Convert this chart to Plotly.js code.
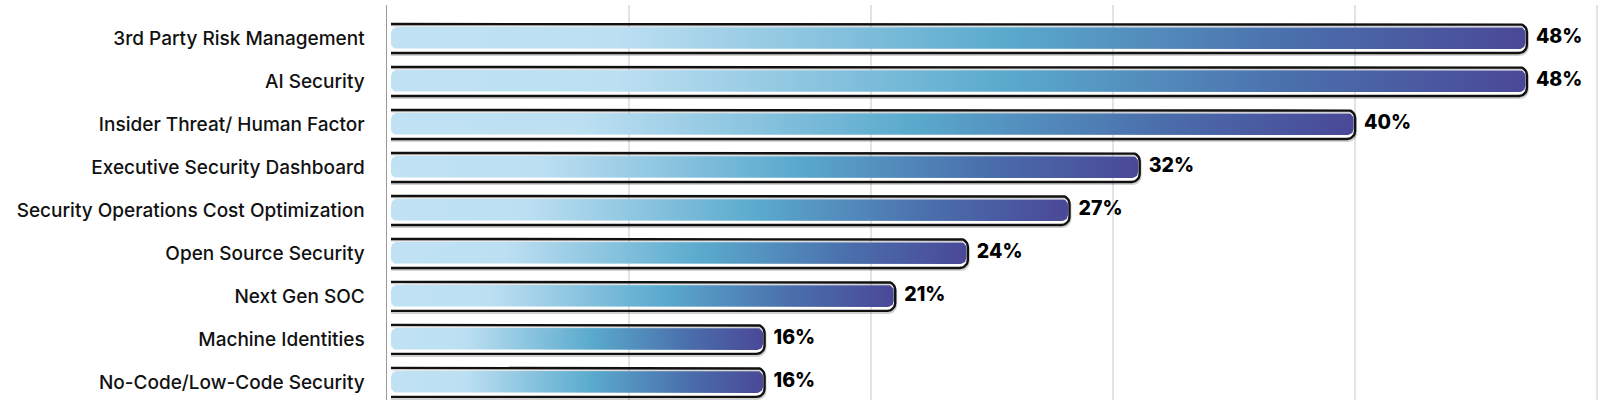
<!DOCTYPE html>
<html>
<head>
<meta charset="utf-8">
<script src="https://cdn.plot.ly/plotly-3.0.1.min.js"></script>
<style>
html, body { margin: 0; padding: 0; background: #fff; }
#chart { width: 1600px; height: 400px; }
</style>
</head>
<body>
<div id="chart"></div>
<script>
const categories = [
    '3rd Party Risk Management',
    'AI Security',
    'Insider Threat/ Human Factor',
    'Executive Security Dashboard',
    'Security Operations Cost Optimization',
    'Open Source Security',
    'Next Gen SOC',
    'Machine Identities',
    'No-Code/Low-Code Security'
]
const pctLabels = ['48%', '48%', '40%', '32%', '27%', '24%', '21%', '16%', '16%']
// bar lengths as drawn in the picture (percent of the axis)
const barLength = [47.1, 47.1, 40, 31.1, 28.2, 24, 21, 15.6, 15.6]

const W = 1600, H = 400
const margin = { l: 387, r: 0, t: 5, b: 0 }
const xRange = [0, 50.12]
const yRange = [8.41, -0.78]

// pixels per data unit, so corners and insets can be given in px
const pxX = (W - margin.l - margin.r) / (xRange[1] - xRange[0])
const pxY = (H - margin.t - margin.b) / (yRange[0] - yRange[1])
const dx = p => p / pxX
const dy = p => p / pxY

const gradient = [
    [0, '#c0e2f4'],
    [0.2, '#bcdff2'],
    [0.54, '#5aaacd'],
    [0.8, '#4a6eab'],
    [1, '#4a4898']
]

function arc(xs, ys, cx, cy, rx, ry, a0, a1) {
    const n = 8
    for (let k = 0; k <= n; k++) {
        const a = a0 + (a1 - a0) * k / n
        xs.push(cx + rx * Math.cos(a))
        ys.push(cy + ry * Math.sin(a))
    }
}

function roundRect(x0, x1, yt, yb, r) {
    const rx = dx(r), ry = dy(r)
    let xs = [], ys = []
    arc(xs, ys, x0 + rx, yt + ry, rx, ry, Math.PI, 1.5 * Math.PI)
    arc(xs, ys, x1 - rx, yt + ry, rx, ry, 1.5 * Math.PI, 2 * Math.PI)
    arc(xs, ys, x1 - rx, yb - ry, rx, ry, 0, 0.5 * Math.PI)
    arc(xs, ys, x0 + rx, yb - ry, rx, ry, 0.5 * Math.PI, Math.PI)
    xs.push(xs[0]); ys.push(ys[0])
    return [xs, ys]
}

function outline(x0, x1, yt, yb, r) {
    const rx = dx(r), ry = dy(r)
    let xs = [x0], ys = [yt]
    arc(xs, ys, x1 - rx, yt + ry, rx, ry, 1.5 * Math.PI, 2 * Math.PI)
    arc(xs, ys, x1 - rx, yb - ry, rx, ry, 0, 0.5 * Math.PI)
    xs.push(x0); ys.push(yb)
    return [xs, ys]
}

const data = []
barLength.forEach((len, i) => {
    const x0 = dx(4)
    // soft shadow under the bar
    const sh = outline(x0, len + dx(1), i - dy(13), i + dy(16.5), 8)
    data.push({
        x: sh[0], y: sh[1], mode: 'lines', hoverinfo: 'skip', showlegend: false,
        line: { color: 'rgba(0,0,0,0.18)', width: 2 }
    })
    const fill = roundRect(x0, len - dx(1.5), i - dy(11.5), i + dy(10.5), 6)
    data.push({
        x: fill[0], y: fill[1], mode: 'lines', fill: 'toself', hoverinfo: 'skip', showlegend: false,
        line: { width: 0, color: 'rgba(0,0,0,0)' },
        fillgradient: { type: 'horizontal', colorscale: gradient }
    })
    const ol = outline(x0, len, i - dy(14.5), i + dy(14.5), 8)
    data.push({
        x: ol[0], y: ol[1], mode: 'lines', hoverinfo: 'skip', showlegend: false,
        line: { color: '#111', width: 2.4 }
    })
})

data.push({
    x: barLength.map(v => v + dx(9)),
    y: categories.map((c, i) => i),
    text: pctLabels,
    mode: 'text',
    textposition: 'middle right',
    textfont: { family: 'Inter, Roboto, sans-serif', size: 19.5, weight: 800, color: '#000' },
    hoverinfo: 'skip',
    showlegend: false
})

const layout = {
    width: W,
    height: H,
    margin: margin,
    paper_bgcolor: '#fff',
    plot_bgcolor: '#fff',
    showlegend: false,
    xaxis: {
        range: xRange,
        dtick: 10,
        showticklabels: false,
        showgrid: true,
        gridcolor: '#e4e4e4',
        gridwidth: 1.5,
        zeroline: false,
        showline: false,
        fixedrange: true
    },
    yaxis: {
        range: yRange,
        tickvals: categories.map((c, i) => i),
        ticktext: categories,
        ticks: '',
        ticklabelstandoff: 17,
        showgrid: false,
        zeroline: false,
        showline: true,
        linecolor: '#9a9a9a',
        linewidth: 1.5,
        tickfont: { family: 'Inter, Roboto, sans-serif', size: 19, weight: 500, color: '#111' },
        fixedrange: true
    }
}

Plotly.newPlot('chart', data, layout, { staticPlot: true, displayModeBar: false })
</script>
</body>
</html>
